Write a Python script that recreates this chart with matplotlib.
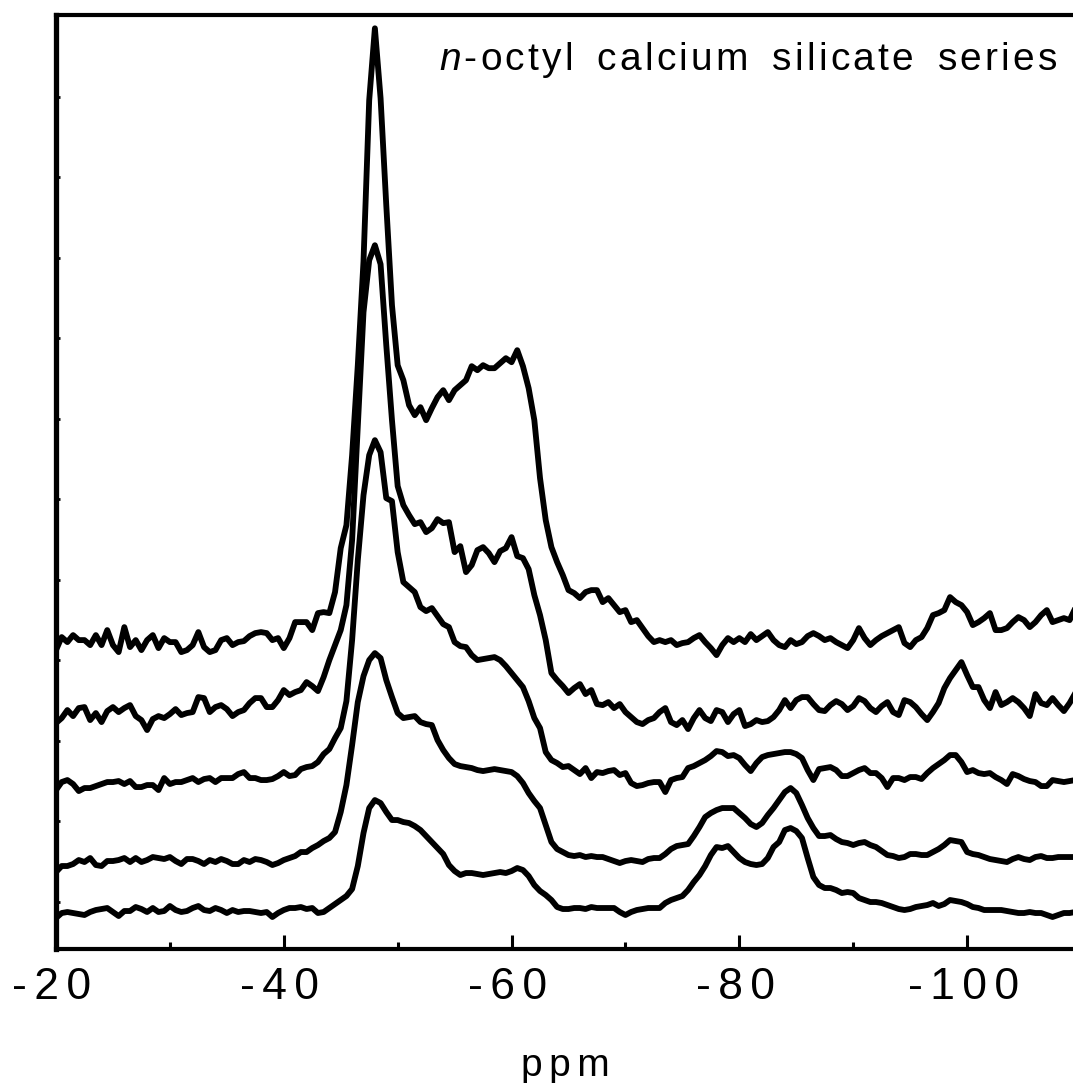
import numpy as np
import matplotlib
matplotlib.use("Agg")
import matplotlib.pyplot as plt
import matplotlib.transforms as mtransforms
from matplotlib.ticker import FixedLocator

plt.rcParams['font.family'] = ['Liberation Sans', 'DejaVu Sans']
plt.rcParams['mathtext.fontset'] = 'custom'
plt.rcParams['mathtext.it'] = 'Liberation Sans:italic'
plt.rcParams['mathtext.rm'] = 'Liberation Sans'

# chemical shift axis, 0.5 ppm steps from -20 to -110
ppm = np.arange(-20.0, -110.01, -0.5)

# stacked spectra, top to bottom (arbitrary intensity, offset already included)
trace1 = [
    296, 309, 304, 311, 306, 306, 301, 311, 301, 316,
    301, 294, 319, 299, 306, 296, 306, 311, 298, 308,
    304, 304, 294, 296, 301, 314, 299, 294, 296, 306,
    308, 301, 304, 305, 310, 313, 314, 313, 306, 308,
    298, 308, 324, 324, 324, 316, 333, 334, 333, 354,
    398, 421, 491, 581, 685, 846, 918, 848, 741, 641,
    581, 566, 541, 531, 539, 526, 538, 549, 556, 546,
    556, 561, 566, 580, 576, 581, 578, 578, 583, 588,
    584, 596, 580, 558, 526, 468, 426, 399, 384, 371,
    356, 353, 348, 354, 356, 356, 344, 348, 341, 334,
    336, 324, 326, 318, 310, 304, 306, 304, 306, 301,
    303, 304, 308, 311, 304, 298, 291, 301, 308, 304,
    308, 304, 312, 306, 310, 314, 306, 301, 299, 306,
    302, 304, 310, 313, 310, 306, 308, 304, 301, 298,
    306, 318, 308, 301, 306, 310, 313, 316, 319, 303,
    299, 306, 309, 318, 331, 333, 336, 349, 344, 341,
    334, 321, 324, 328, 333, 316, 316, 318, 324, 329,
    326, 319, 324, 331, 336, 324, 326, 328, 326, 338,
    336]

trace2 = [
    223, 228, 236, 230, 238, 239, 226, 233, 224, 235,
    239, 234, 238, 241, 230, 226, 216, 227, 230, 228,
    232, 237, 231, 233, 234, 249, 248, 234, 239, 241,
    237, 230, 234, 236, 243, 248, 248, 239, 239, 246,
    256, 251, 254, 256, 264, 260, 255, 269, 286, 301,
    316, 341, 406, 521, 634, 686, 701, 682, 601, 526,
    460, 441, 431, 422, 424, 414, 418, 427, 423, 424,
    394, 400, 374, 381, 396, 399, 393, 384, 395, 398,
    409, 390, 388, 377, 351, 331, 306, 273, 266, 260,
    253, 258, 262, 252, 256, 242, 241, 244, 238, 242,
    234, 229, 224, 222, 226, 228, 234, 238, 224, 221,
    226, 217, 228, 236, 228, 225, 236, 234, 224, 232,
    236, 220, 222, 226, 224, 225, 229, 236, 246, 238,
    246, 249, 249, 242, 236, 235, 241, 245, 242, 236,
    240, 248, 245, 238, 234, 240, 244, 234, 231, 246,
    244, 239, 232, 226, 234, 243, 258, 268, 276, 284,
    271, 259, 259, 246, 238, 254, 241, 244, 248, 244,
    238, 230, 252, 243, 241, 248, 241, 235, 243, 253,
    256]

trace3 = [
    156, 164, 166, 162, 155, 158, 158, 160, 162, 164,
    164, 165, 162, 165, 159, 159, 161, 161, 156, 168,
    162, 164, 164, 166, 168, 164, 167, 168, 164, 168,
    168, 168, 172, 174, 168, 168, 166, 166, 167, 170,
    174, 170, 171, 177, 179, 180, 184, 192, 197, 208,
    218, 245, 306, 386, 451, 491, 506, 494, 448, 445,
    394, 364, 359, 354, 339, 335, 338, 330, 322, 319,
    304, 300, 299, 291, 286, 287, 288, 289, 286, 280,
    273, 266, 259, 245, 228, 218, 194, 186, 183, 179,
    180, 176, 172, 178, 168, 174, 173, 175, 176, 171,
    173, 163, 160, 161, 163, 164, 164, 154, 166, 168,
    169, 178, 180, 183, 186, 190, 195, 194, 190, 191,
    188, 181, 175, 183, 189, 191, 192, 193, 194, 194,
    192, 188, 176, 166, 177, 178, 179, 176, 170, 170,
    173, 176, 178, 173, 173, 168, 159, 168, 168, 166,
    169, 169, 167, 173, 178, 182, 186, 191, 191, 184,
    174, 176, 173, 172, 173, 169, 166, 162, 172, 170,
    167, 165, 164, 160, 160, 166, 165, 164, 165, 166,
    166]

trace4 = [
    74, 80, 80, 82, 86, 84, 88, 81, 80, 85,
    85, 86, 88, 84, 88, 84, 86, 89, 88, 87,
    89, 85, 82, 87, 87, 85, 82, 86, 84, 87,
    85, 82, 82, 86, 84, 87, 86, 84, 81, 83,
    86, 88, 90, 94, 94, 98, 101, 105, 108, 114,
    134, 161, 201, 244, 270, 286, 293, 288, 266, 249,
    233, 228, 229, 230, 224, 222, 221, 206, 196, 188,
    182, 180, 179, 178, 176, 175, 176, 177, 176, 175,
    174, 170, 163, 153, 145, 138, 121, 104, 97, 94,
    91, 90, 91, 89, 90, 89, 89, 87, 85, 83,
    85, 86, 85, 84, 87, 88, 88, 92, 97, 100,
    101, 102, 110, 119, 129, 133, 136, 138, 138, 138,
    133, 128, 122, 119, 123, 131, 138, 146, 154, 158,
    153, 141, 128, 118, 110, 110, 111, 107, 104, 103,
    101, 103, 104, 101, 99, 95, 91, 90, 88, 89,
    92, 92, 91, 91, 94, 97, 101, 106, 105, 104,
    94, 92, 91, 89, 87, 86, 85, 84, 87, 89,
    87, 86, 89, 90, 88, 88, 89, 89, 89, 89,
    89]

trace5 = [
    28, 33, 34, 33, 32, 31, 34, 36, 37, 38,
    34, 30, 35, 35, 39, 37, 34, 38, 34, 35,
    40, 36, 34, 35, 38, 40, 36, 35, 38, 36,
    33, 36, 34, 35, 35, 34, 33, 34, 29, 33,
    36, 38, 38, 39, 37, 38, 33, 34, 38, 42,
    46, 50, 57, 80, 113, 138, 146, 143, 134, 126,
    126, 124, 123, 120, 116, 110, 104, 98, 92, 81,
    75, 71, 73, 73, 72, 71, 72, 73, 74, 73,
    75, 78, 76, 70, 61, 55, 51, 46, 39, 37,
    37, 38, 38, 37, 39, 38, 38, 38, 38, 34,
    31, 34, 36, 37, 38, 38, 38, 43, 46, 48,
    50, 56, 64, 71, 80, 91, 99, 98, 100, 94,
    88, 84, 82, 81, 82, 88, 99, 104, 116, 118,
    115, 108, 88, 69, 61, 58, 58, 56, 53, 54,
    53, 48, 46, 44, 44, 43, 41, 39, 37, 36,
    37, 39, 40, 41, 43, 40, 42, 46, 45, 44,
    42, 39, 38, 36, 36, 36, 36, 35, 34, 33,
    33, 34, 33, 33, 31, 29, 31, 33, 33, 34,
    34]

major_ticks = [-20, -40, -60, -80, -100]
minor_ticks = [-30, -50, -70, -90]
tick_labels = ["-20", "-40", "-60", "-80", "-100"]

SP = "\u2006"   # six-per-em space, letter spacing like the original export
HS = "\u200a"   # hair space


def spaced(s, gap=SP):
    return gap.join(s)


def spaced_words(s):
    return (SP + " " + SP).join(spaced(w, HS) for w in s.split(" "))


fig = plt.figure(figsize=(10.73, 10.83), dpi=100)
ax = fig.add_axes([56 / 1073, (1083 - 949) / 1083, 1025 / 1073, 933.7 / 1083])

for tr in (trace1, trace2, trace3, trace4, trace5):
    ax.plot(ppm, tr, color="black", lw=4.2, solid_joinstyle="round")

ax.set_xlim(-20, -110)
ax.set_ylim(-3, 931)

ax.xaxis.set_major_locator(FixedLocator(major_ticks))
ax.xaxis.set_minor_locator(FixedLocator(minor_ticks))
ax.set_xticklabels([spaced(s) for s in tick_labels])
ax.tick_params(axis="x", which="major", direction="in", length=10, width=2.2,
               labelsize=32, pad=13)
ax.tick_params(axis="x", which="minor", direction="in", length=5, width=2.2)
ax.set_yticks(np.arange(44.5, 900, 80.5))
ax.tick_params(axis="y", direction="in", length=3, width=2, labelleft=False)

for side in ("top", "bottom"):
    ax.spines[side].set_linewidth(3)
ax.spines["left"].set_linewidth(3.8)
ax.spines["right"].set_visible(False)

shift = mtransforms.ScaledTranslation(-4 / 100, 0, fig.dpi_scale_trans)
for lab in ax.get_xticklabels():
    lab.set_transform(lab.get_transform() + shift)

ax.set_xlabel(spaced("ppm"), fontsize=28)
ax.xaxis.set_label_coords(0.4966, -0.1365)
ax.xaxis.label.set_va("baseline")

ax.text(0.9766, 0.9414, r"$\mathit{n}$" + HS + spaced_words("-octyl calcium silicate series"),
        transform=ax.transAxes, ha="right", va="baseline", fontsize=28)

fig.savefig("out.png", dpi=100)
